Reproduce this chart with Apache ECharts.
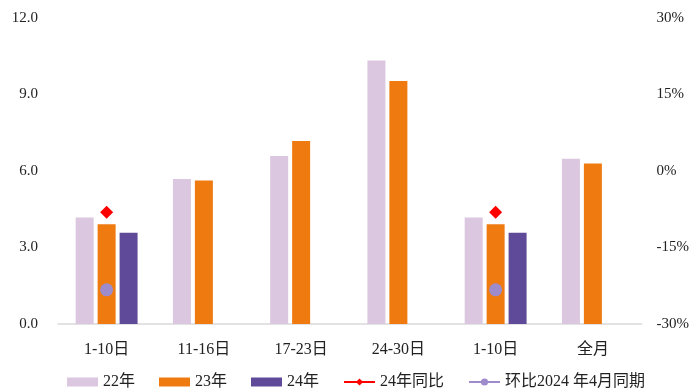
<!DOCTYPE html>
<html>
<head>
<meta charset="utf-8">
<script src="https://cdn.jsdelivr.net/npm/echarts@6/dist/echarts.min.js"></script>
<style>
  html, body { margin: 0; padding: 0; background: #fff; }
  #chart { width: 692px; height: 392px; }
</style>
</head>
<body>
<div id="chart"></div>
<script>
// Period categories
const categories = ['1-10日', '11-16日', '17-23日', '24-30日', '1-10日', '全月'];

// Volumes (left axis)
const vol22 = [4.18, 5.69, 6.59, 10.33, 4.18, 6.48];
const vol23 = [3.91, 5.63, 7.18, 9.53, 3.91, 6.29];
const vol24 = [3.58, null, null, null, 3.58, null];

// Ratios in percent (right axis)
const yoy24 = [-8.1, null, null, null, -8.1, null];
const momApr24 = [-23.3, null, null, null, -23.3, null];

const FONT = '"Liberation Serif", "Times New Roman", "Noto Sans CJK SC", serif';
const TEXT = '#222';

const chart = echarts.init(document.getElementById('chart'), null, { renderer: 'canvas' });

chart.setOption({
  animation: false,
  backgroundColor: '#fff',
  textStyle: { fontFamily: FONT, color: TEXT },
  grid: { left: 58, right: 47, top: 18, bottom: 68 },
  legend: {
    top: 369,
    left: 62,
    itemWidth: 31,
    itemHeight: 9,
    itemGap: 24,
    textStyle: { fontFamily: FONT, fontSize: 16, color: TEXT },
    data: [
      { name: '22年', icon: 'rect' },
      { name: '23年', icon: 'rect' },
      { name: '24年', icon: 'rect' },
      { name: '24年同比' },
      { name: '环比2024 年4月同期' }
    ]
  },
  xAxis: {
    type: 'category',
    data: categories,
    axisLine: { lineStyle: { color: '#d9d9d9', width: 1.5 } },
    axisTick: { show: false },
    axisLabel: { fontFamily: FONT, fontSize: 16, color: TEXT, margin: 18 }
  },
  yAxis: [
    {
      type: 'value',
      min: 0, max: 12, interval: 3,
      splitLine: { show: false },
      axisLine: { show: false },
      axisTick: { show: false },
      axisLabel: {
        fontFamily: FONT, fontSize: 15, color: TEXT, margin: 20,
        formatter: v => v.toFixed(1)
      }
    },
    {
      type: 'value',
      min: -30, max: 30, interval: 15,
      splitLine: { show: false },
      axisLine: { show: false },
      axisTick: { show: false },
      axisLabel: {
        fontFamily: FONT, fontSize: 15, color: TEXT, margin: 15,
        formatter: '{value}%'
      }
    }
  ],
  series: [
    {
      name: '22年', type: 'bar', data: vol22,
      barWidth: 18, barGap: '22%',
      itemStyle: { color: '#dbc7e0' }
    },
    {
      name: '23年', type: 'bar', data: vol23,
      barWidth: 18, barGap: '22%',
      itemStyle: { color: '#ee7a10' }
    },
    {
      name: '24年', type: 'bar', data: vol24,
      barWidth: 18, barGap: '22%',
      itemStyle: { color: '#5f4a9a' }
    },
    {
      name: '24年同比', type: 'line', yAxisIndex: 1, data: yoy24,
      symbol: 'diamond', symbolSize: 13,
      lineStyle: { color: '#ff0000', width: 3 },
      itemStyle: { color: '#ff0000' },
      z: 5
    },
    {
      name: '环比2024 年4月同期', type: 'line', yAxisIndex: 1, data: momApr24,
      symbol: 'circle', symbolSize: 13,
      lineStyle: { color: '#9d8bcb', width: 3 },
      itemStyle: { color: '#9d8bcb' },
      z: 5
    }
  ]
});
</script>
</body>
</html>
